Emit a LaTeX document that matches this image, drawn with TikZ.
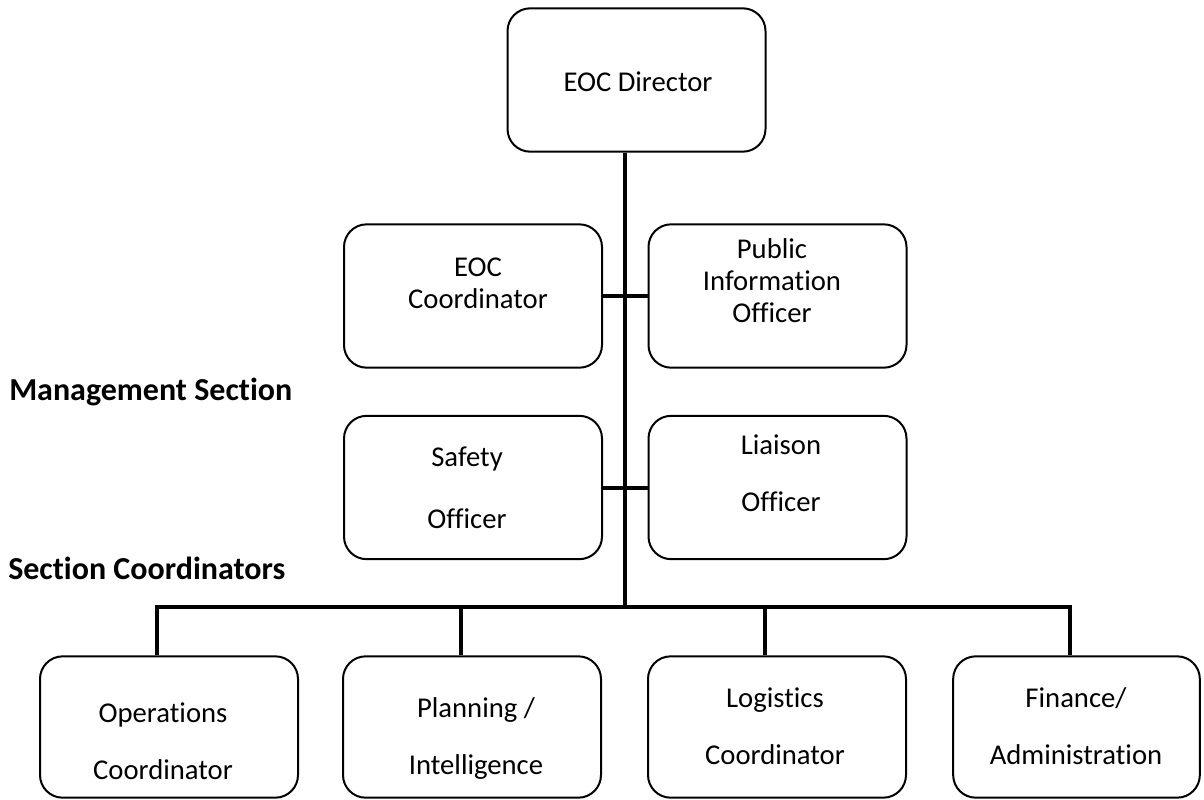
\documentclass[tikz,border=0pt]{standalone}
\usepackage{fontspec}
\setmainfont[Ligatures=NoCommon]{Carlito}
\begin{document}
\begin{tikzpicture}[x=0.75pt,y=-0.75pt,
  box/.style={draw, line width=1.5pt, rounded corners=17pt, minimum width=193.5pt, minimum height=107.5pt, inner sep=0pt},
  txt/.style={align=center, font=\fontsize{21.5}{24}\selectfont, inner sep=0pt},
  wideA/.style={align=center, font=\fontsize{21.5}{46.5}\selectfont, inner sep=0pt},
  wideB/.style={align=center, font=\fontsize{21.5}{43}\selectfont, inner sep=0pt},
  lbl/.style={anchor=west, font=\fontsize{24}{28}\selectfont\bfseries, inner sep=0pt},
  conn/.style={line width=3pt, line join=miter}]
\useasboundingbox[fill=white] (0,0) rectangle (1204,800);
% boxes
\node[box] (dir) at (636.5,80) {};
\node[box] (coord) at (473,296) {};
\node[box] (pio) at (777.5,296) {};
\node[box] (safety) at (473,487.5) {};
\node[box] (liaison) at (777.5,487.5) {};
\node[box, minimum height=106pt] (ops) at (169,727) {};
\node[box, minimum height=106pt] (plan) at (472,727) {};
\node[box, minimum height=106pt] (logi) at (777,727) {};
\node[box, minimum height=106pt, minimum width=185pt] (fin) at (1076.5,727) {};
% texts
\node[txt] (dirT) at (638,82) {EOC Director};
\node[txt] (coordT) at (478,283) {EOC\\Coordinator};
\node[txt] (pioT) at (772,281) {Public\\Information\\Officer};
\node[wideA] (safT) at (467,488) {Safety\\Officer};
\node[wideB] (liaT) at (781,473.5) {Liaison\\Officer};
\node[wideB] (opsT) at (163,741) {Operations\\Coordinator};
\node[wideB] (planT) at (476,738.5) {Planning /\\Intelligence};
\node[wideB] (logiT) at (775,726) {Logistics\\Coordinator};
\node[wideB] (finT) at (1076,726) {Finance/\\Administration};
\node[lbl] (mgmt) at (9,392) {Management Section};
\node[lbl] (secc) at (8,568) {Section Coordinators};
% connectors
\coordinate (trunk) at (625,607);
\coordinate (busL) at (157,607);
\coordinate (busR) at (1070,607);
\coordinate (d2) at (461,607);
\coordinate (d3) at (765,607);
\draw[conn] (trunk |- dir.south) -- (trunk);
\draw[conn] (coord.east) -- (pio.west);
\draw[conn] (safety.east) -- (liaison.west);
\draw[conn] (busL |- ops.north) -- (busL) -- (busR) -- (busR |- fin.north);
\draw[conn] (d2) -- (d2 |- plan.north);
\draw[conn] (d3) -- (d3 |- logi.north);
\end{tikzpicture}
\end{document}
